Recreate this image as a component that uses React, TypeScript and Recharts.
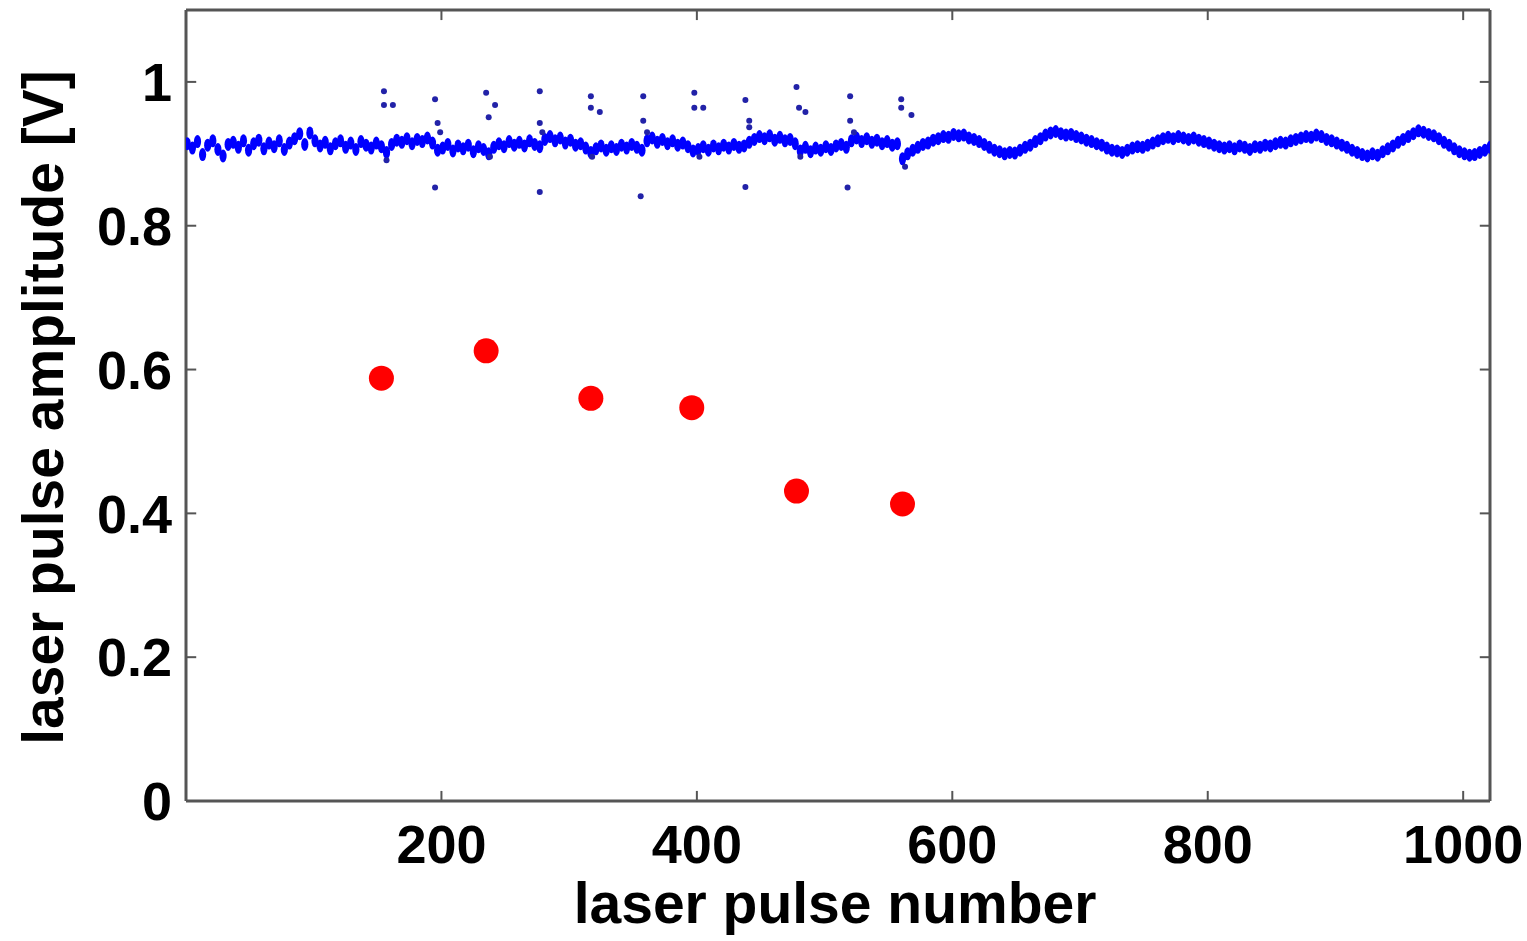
import { ScatterChart, Scatter, XAxis, YAxis, ReferenceLine, Label } from 'recharts';

// pulse numbers of the steady band are sampled every 4th pulse, starting at pulse 1
const bandStep = 4;
const bandAmplitude = [
  0.914, 0.908, 0.917, 0.899, 0.912, 0.918, 0.906, 0.897, 0.913, 0.916,
  0.909, 0.918, 0.905, 0.914, 0.919, 0.907, 0.915, 0.91, 0.918, 0.906,
  0.915, 0.921, 0.928, 0.913, 0.929, 0.918, 0.911, 0.916, 0.907, 0.914,
  0.918, 0.909, 0.915, 0.906, 0.917, 0.912, 0.908, 0.915, 0.91, 0.902,
  0.913, 0.919, 0.916, 0.921, 0.914, 0.92, 0.917, 0.922, 0.915, 0.905,
  0.908, 0.913, 0.904, 0.911, 0.907, 0.912, 0.903, 0.91, 0.906, 0.9,
  0.909, 0.914, 0.91, 0.917, 0.912, 0.916, 0.911, 0.918, 0.913, 0.91,
  0.92, 0.924, 0.918, 0.922, 0.915, 0.919, 0.912, 0.914, 0.908, 0.902,
  0.907, 0.911, 0.905, 0.91, 0.906, 0.912, 0.908, 0.913, 0.909, 0.905,
  0.918, 0.922, 0.916, 0.92, 0.914, 0.918, 0.912, 0.915, 0.91, 0.904,
  0.906, 0.91, 0.905, 0.911, 0.907, 0.912, 0.908, 0.913, 0.909, 0.911,
  0.916, 0.92, 0.924, 0.921, 0.925, 0.919, 0.923, 0.918, 0.92, 0.914,
  0.904, 0.909, 0.903, 0.908, 0.905, 0.91, 0.906, 0.911, 0.913, 0.909,
  0.918, 0.922, 0.917, 0.921, 0.916, 0.919, 0.914, 0.917, 0.912, 0.914,
  0.893, 0.9, 0.905, 0.909, 0.913, 0.915, 0.919, 0.921, 0.924, 0.923,
  0.927, 0.925, 0.926, 0.922, 0.92, 0.917, 0.913, 0.909, 0.905, 0.903,
  0.9, 0.902, 0.901, 0.905, 0.909, 0.912, 0.917, 0.921, 0.926, 0.929,
  0.931, 0.928, 0.926, 0.927, 0.924, 0.922, 0.919, 0.917, 0.914, 0.912,
  0.908, 0.905, 0.904, 0.902, 0.905, 0.908, 0.91, 0.909, 0.912, 0.915,
  0.918, 0.921, 0.923, 0.921, 0.924, 0.922, 0.92, 0.922, 0.919, 0.917,
  0.915, 0.912, 0.91, 0.908, 0.91, 0.907, 0.911, 0.909, 0.906, 0.91,
  0.909, 0.912, 0.911, 0.914, 0.916, 0.915, 0.918, 0.92, 0.922, 0.924,
  0.923, 0.926, 0.924, 0.92, 0.918, 0.915, 0.912, 0.909, 0.905, 0.902,
  0.899, 0.897, 0.9, 0.898, 0.903, 0.907, 0.911, 0.916, 0.92, 0.924,
  0.928, 0.932, 0.93, 0.927, 0.925, 0.921, 0.916, 0.912, 0.907, 0.903,
  0.9, 0.898, 0.899, 0.902, 0.905, 0.909,
];

// scattered pulses around each probe event
const spikePulse = [
  155, 155, 162, 157,
  195, 197, 199, 195,
  235, 242, 237, 238,
  277, 277, 279, 277,
  317, 317, 324, 318,
  358, 358, 361, 356,
  398, 398, 405, 402,
  438, 441, 441, 438,
  478, 480, 485, 481,
  520, 520, 523, 518,
  560, 560, 568, 563,
];
const spikeAmplitude = [
  0.987, 0.968, 0.968, 0.891,
  0.976, 0.943, 0.93, 0.853,
  0.985, 0.968, 0.951, 0.896,
  0.987, 0.943, 0.93, 0.847,
  0.98, 0.964, 0.958, 0.896,
  0.98, 0.946, 0.93, 0.841,
  0.985, 0.964, 0.964, 0.896,
  0.975, 0.946, 0.937, 0.854,
  0.993, 0.964, 0.958, 0.896,
  0.98, 0.946, 0.93, 0.853,
  0.976, 0.964, 0.954, 0.882,
];

const probePulse = [153, 235, 317, 396, 478, 561];
const probeAmplitude = [0.588, 0.626, 0.56, 0.547, 0.431, 0.413];

const xTicks = [200, 400, 600, 800, 1000];
const yTicks = [0, 0.2, 0.4, 0.6, 0.8, 1];

const bandData = bandAmplitude.map((v, i) => ({ x: 1 + i * bandStep, y: v }));
const spikeData = spikePulse.map((p, i) => ({ x: p, y: spikeAmplitude[i] }));
const probeData = probePulse.map((p, i) => ({ x: p, y: probeAmplitude[i] }));

const X_MAX = 1021;
const Y_MAX = 1.1;
const FONT = '"Liberation Sans", Arial, Helvetica, sans-serif';
const FRAME = '#555555';

const dot = (r: number, fill: string) => (props: any) => (
  <circle cx={props.cx} cy={props.cy} r={r} fill={fill} />
);

// band points are drawn taller than wide so the dense trace reads as a thick band
const bandDot = (props: any) => (
  <ellipse cx={props.cx} cy={props.cy} rx={3.6} ry={6.5} fill="#0000ff" />
);

export default function App() {
  const tickStyle = { fill: '#000', fontSize: 54, fontWeight: 700, fontFamily: FONT };

  return (
    <div style={{ position: 'absolute', left: 0, top: 0, width: 1527, height: 941, background: '#fff' }}>
      <ScatterChart width={1527} height={941} margin={{ top: 10, right: 37, left: 0, bottom: 0 }}>
        <XAxis
          type="number"
          dataKey="x"
          domain={[0, X_MAX]}
          ticks={xTicks}
          allowDataOverflow
          height={140}
          tickLine={false}
          tickSize={6}
          tickMargin={18}
          axisLine={{ stroke: FRAME, strokeWidth: 3 }}
          tick={tickStyle}
        >
          <Label
            content={({ viewBox }: any) => (
              <text
                x={viewBox.x + viewBox.width / 2 - 3}
                y={viewBox.y + 122}
                textAnchor="middle"
                fontSize={57}
                fontWeight={700}
                fontFamily={FONT}
                fill="#000"
              >
                laser pulse number
              </text>
            )}
          />
        </XAxis>
        <YAxis
          type="number"
          dataKey="y"
          domain={[0, Y_MAX]}
          ticks={yTicks}
          allowDataOverflow
          width={186}
          tickLine={false}
          tickSize={6}
          tickMargin={8}
          axisLine={{ stroke: FRAME, strokeWidth: 3 }}
          tick={tickStyle}
          tickFormatter={(v: number) => (v === 0 ? '0' : v === 1 ? '1' : v.toFixed(1))}
        >
          <Label
            content={({ viewBox }: any) => {
              const cx = 63;
              const cy = viewBox.y + viewBox.height / 2 + 2;
              return (
                <text
                  x={cx}
                  y={cy}
                  transform={`rotate(-90, ${cx}, ${cy})`}
                  textAnchor="middle"
                  fontSize={57}
                  fontWeight={700}
                  fontFamily={FONT}
                  fill="#000"
                >
                  laser pulse amplitude [V]
                </text>
              );
            }}
          />
        </YAxis>

        {/* box frame on top and right */}
        <ReferenceLine y={Y_MAX} stroke={FRAME} strokeWidth={3} />
        <ReferenceLine x={X_MAX} stroke={FRAME} strokeWidth={3} />

        {/* inward tick marks on all four sides */}
        {xTicks.map((t) => (
          <ReferenceLine key={`xb${t}`} segment={[{ x: t, y: 0 }, { x: t, y: 0.014 }]} stroke={FRAME} strokeWidth={2} />
        ))}
        {xTicks.map((t) => (
          <ReferenceLine key={`xt${t}`} segment={[{ x: t, y: Y_MAX }, { x: t, y: Y_MAX - 0.014 }]} stroke={FRAME} strokeWidth={2} />
        ))}
        {yTicks.map((t) => (
          <ReferenceLine key={`yl${t}`} segment={[{ x: 0, y: t }, { x: 8, y: t }]} stroke={FRAME} strokeWidth={2} />
        ))}
        {yTicks.map((t) => (
          <ReferenceLine key={`yr${t}`} segment={[{ x: X_MAX, y: t }, { x: X_MAX - 8, y: t }]} stroke={FRAME} strokeWidth={2} />
        ))}

        <Scatter data={bandData} shape={bandDot} isAnimationActive={false} />
        <Scatter data={spikeData} shape={dot(3, '#2222a8')} isAnimationActive={false} />
        <Scatter data={probeData} shape={dot(12.5, '#ff0000')} isAnimationActive={false} />
      </ScatterChart>
    </div>
  );
}
